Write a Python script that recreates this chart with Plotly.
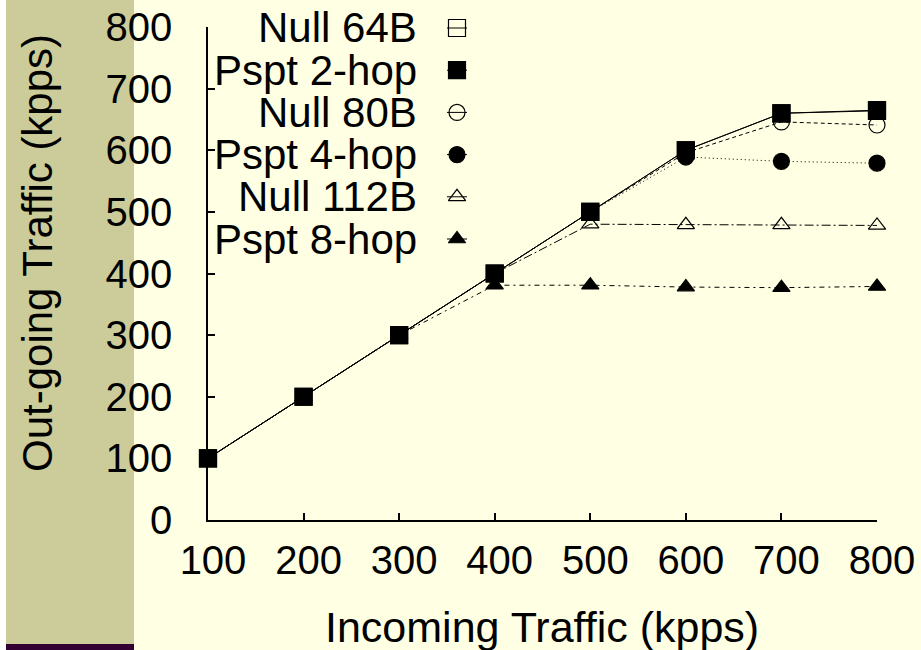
import plotly.graph_objects as go

# ---- data ----
incoming = [100, 200, 300, 400, 500, 600, 700, 800]
null_64b = [100, 200, 300, 400, 500, 600, 660, 664]
pspt_2hop = [100, 200, 300, 400, 500, 600, 660, 665]
null_80b = [100, 200, 300, 400, 500, 596, 646, 641]
pspt_4hop = [100, 200, 300, 400, 500, 589, 582, 579]
null_112b = [100, 200, 300, 400, 480, 479, 479, 478]
pspt_8hop = [100, 200, 300, 381, 381, 378, 377, 379]

series_names = ["Null 64B", "Pspt 2-hop", "Null 80B", "Pspt 4-hop", "Null 112B", "Pspt 8-hop"]
series_values = [null_64b, pspt_2hop, null_80b, pspt_4hop, null_112b, pspt_8hop]
x_ticks = [100, 200, 300, 400, 500, 600, 700, 800]
y_ticks = [0, 100, 200, 300, 400, 500, 600, 700, 800]

# ---- styles ----
symbols = ["square-open", "square", "circle-open", "circle", "triangle-up-open", "triangle-up"]
sizes = [17, 17, 16, 16, 15, 15]
dashes = ["solid", "solid", "4px,3px", "1px,3px", "9px,3px,2px,3px", "5px,4px,2px,4px"]

W, H = 921, 650
L, R, T, B = 208, 44, 27, 130
PW, PH = W - L - R, H - T - B
X0, X1, Y0, Y1 = 100, 800, 0, 800
FONT = "Liberation Sans, Arial, sans-serif"
FS_TICK = 40
FS_TEXT = 42
BG = "#FFFFE3"
STRIP = "#CCCC9A"


def fx(px):
    return (px - L) / PW


def fy(py):
    return (H - B - py) / PH


def px2x(px):
    return X0 + (px - L) * (X1 - X0) / PW


def py2y(py):
    return Y0 + (H - B - py) * (Y1 - Y0) / PH


fig = go.Figure()

for name, vals, sym, sz, dash in zip(series_names, series_values, symbols, sizes, dashes):
    fig.add_trace(go.Scatter(
        x=incoming, y=vals, name=name, mode="lines+markers",
        line=dict(color="black", width=1, dash=dash),
        marker=dict(symbol=sym, size=sz, color="black", line=dict(color="black", width=1.2)),
        cliponaxis=False, showlegend=False,
    ))

# ---- custom legend (text left of symbol) ----
LEG_TEXT_X = 419
LEG_SYM_X = 457
LEG_Y0 = 28
LEG_DY = 42.2
for i, (name, sym, sz) in enumerate(zip(series_names, symbols, sizes)):
    yy = py2y(LEG_Y0 + i * LEG_DY)
    fig.add_trace(go.Scatter(
        x=[px2x(LEG_SYM_X - 10), px2x(LEG_SYM_X + 10)], y=[yy, yy],
        mode="lines", line=dict(color="black", width=1),
        cliponaxis=False, showlegend=False, hoverinfo="skip",
    ))
    fig.add_trace(go.Scatter(
        x=[px2x(LEG_SYM_X)], y=[yy], mode="markers",
        marker=dict(symbol=sym, size=sz, color="black", line=dict(color="black", width=1.2)),
        cliponaxis=False, showlegend=False, hoverinfo="skip",
    ))
    fig.add_annotation(x=fx(LEG_TEXT_X), y=fy(LEG_Y0 + i * LEG_DY), xref="paper", yref="paper",
                       text=name, showarrow=False, xanchor="right", yanchor="middle",
                       font=dict(family=FONT, size=FS_TEXT, color="black"))

shapes = [
    dict(type="rect", xref="paper", yref="paper", x0=fx(0), x1=fx(6), y0=fy(H), y1=fy(0),
         fillcolor="white", line=dict(width=0), layer="below"),
    dict(type="rect", xref="paper", yref="paper", x0=fx(6), x1=fx(134), y0=fy(H), y1=fy(0),
         fillcolor=STRIP, line=dict(width=0), layer="below"),
    dict(type="rect", xref="paper", yref="paper", x0=fx(6), x1=fx(134), y0=fy(H), y1=fy(644),
         fillcolor="#330033", line=dict(width=0), layer="below"),
]

fig.add_annotation(x=fx(542), y=fy(627), xref="paper", yref="paper",
                   text="Incoming Traffic (kpps)", showarrow=False,
                   xanchor="center", yanchor="middle",
                   font=dict(family=FONT, size=43, color="black"))
fig.add_annotation(x=fx(37), y=fy(253), xref="paper", yref="paper",
                   text="Out-going Traffic (kpps)", showarrow=False, textangle=-90,
                   xanchor="center", yanchor="middle",
                   font=dict(family=FONT, size=FS_TEXT, color="black"))

fig.update_layout(
    width=W, height=H, autosize=False,
    margin=dict(l=L, r=R, t=T, b=B, pad=0, autoexpand=False),
    paper_bgcolor=BG, plot_bgcolor=BG,
    font=dict(family=FONT, size=FS_TICK, color="black"),
    shapes=shapes,
    showlegend=False,
    xaxis=dict(range=[X0, X1], tickvals=x_ticks, ticks="inside", ticklen=7, tickwidth=1.5,
               tickcolor="black", showline=True, linecolor="black", linewidth=1.5,
               showgrid=False, zeroline=False, ticklabelstandoff=4, ticklabelshift=5,
               automargin=False,
               tickfont=dict(family=FONT, size=FS_TICK, color="black")),
    yaxis=dict(range=[Y0, Y1], tickvals=y_ticks, ticks="inside", ticklen=7, tickwidth=1.5,
               tickcolor="black", showline=True, linecolor="black", linewidth=1.5,
               showgrid=False, zeroline=False, ticklabelstandoff=26, automargin=False,
               tickfont=dict(family=FONT, size=FS_TICK, color="black")),
)

fig.write_html("out.html", config={"displayModeBar": False},
               post_script="document.body.style.margin='0';document.body.style.overflow='hidden';")
